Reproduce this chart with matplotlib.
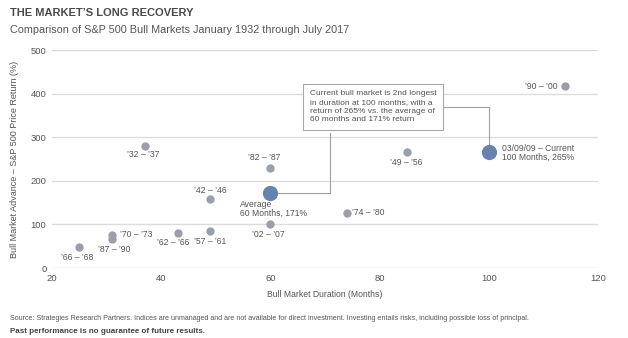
import matplotlib.pyplot as plt

plt.rcParams['font.family'] = ['Liberation Sans Narrow', 'Liberation Sans', 'DejaVu Sans']

# bull markets: duration (months) vs price return (%)
labels = ["’66 – ’68", "’87 – ’90", "’70 – ’73", "’32 – ’37", "’62 – ’66", "’57 – ’61",
          "’42 – ’46", "’82 – ’87", "’02 – ’07", "’74 – ’80", "’49 – ’56", "’90 – ’00"]
months = [25, 31, 31, 37, 43, 49, 49, 60, 60, 74, 85, 114]
returns = [48, 66, 76, 281, 81, 86, 158, 229, 101, 127, 266, 417]

avg_months, avg_return = 60, 171
cur_months, cur_return = 100, 265

# label offsets in pixels (dx, dy, ha)
offsets = [(-2, -10, 'center'), (2, -10, 'center'), (8, 0, 'left'), (-2, -9, 'center'),
           (-4, -10, 'center'), (0, -11, 'center'), (0, 9, 'center'), (-6, 11, 'center'),
           (-2, -11, 'center'), (5, 0, 'left'), (-1, -10, 'center'), (-8, 0, 'right')]

grey = '#9a9fa8'
blue = '#6583ad'
txt = '#555555'
grid = '#dcdcdc'

fig = plt.figure(figsize=(6.28, 3.38), dpi=100)
ax = fig.add_axes([0.0828, 0.207, 0.8694, 0.645])

ax.scatter(months, returns, s=36, color=grey, zorder=3, linewidths=0)
ax.scatter([avg_months, cur_months], [avg_return, cur_return], s=120, color=blue,
           zorder=3, linewidths=0)

px = 0.72
for lab, x, y, (dx, dy, ha) in zip(labels, months, returns, offsets):
    ax.annotate(lab, (x, y), xytext=(dx * px, dy * px), textcoords='offset points',
                ha=ha, va='center', fontsize=6.2, color=txt)

ax.annotate('Average\n60 Months, 171%', (avg_months, avg_return), xytext=(-30 * px, -7 * px),
            textcoords='offset points', ha='left', va='top', fontsize=6.2, color=txt,
            linespacing=0.95)
ax.annotate('03/09/09 – Current\n100 Months, 265%', (cur_months, cur_return),
            xytext=(13 * px, 0), textcoords='offset points', ha='left', va='center',
            fontsize=6.2, color=txt, linespacing=0.95)

# callout box and its connectors
ax.plot([90.9, 100, 100], [370, 370, cur_return + 8], color='#a0a0a0', lw=0.8, zorder=2)
ax.plot([71, 71, avg_months], [310, avg_return, avg_return], color='#a0a0a0', lw=0.8, zorder=2)
ax.text(67.2, 370, 'Current bull market is 2nd longest\nin duration at 100 months, with a\n'
        'return of 265% vs. the average of\n60 months and 171% return',
        ha='left', va='center', fontsize=6, color=txt, linespacing=1.35, zorder=4,
        bbox=dict(boxstyle='square,pad=0.75', fc='white', ec='#a8a8a8', lw=0.8))

ax.set_xlim(20, 120)
ax.set_ylim(0, 500)
ax.set_xticks([20, 40, 60, 80, 100, 120])
ax.set_yticks([0, 100, 200, 300, 400, 500])
ax.yaxis.grid(True, color=grid, lw=1)
ax.set_axisbelow(True)
for s in ax.spines.values():
    s.set_visible(False)
ax.tick_params(length=0, labelsize=6.8, colors=txt, pad=4)
ax.set_xlabel('Bull Market Duration (Months)', fontsize=6.2, color=txt, labelpad=5)
ax.set_ylabel('Bull Market Advance – S&P 500 Price Return (%)', fontsize=6.5, color=txt,
              labelpad=8)

fig.text(0.016, 0.962, 'THE MARKET’S LONG RECOVERY', fontsize=8, fontweight='bold',
         color='#4a4a4a', va='center')
fig.text(0.016, 0.91, 'Comparison of S&P 500 Bull Markets January 1932 through July 2017',
         fontsize=7.8, color=txt, va='center')
fig.text(0.016, 0.057, 'Source: Strategies Research Partners. Indices are unmanaged and are not '
         'available for direct investment. Investing entails risks, including possible loss '
         'of principal.', fontsize=5.1, color=txt, va='center')
fig.text(0.016, 0.018, 'Past performance is no guarantee of future results.', fontsize=5.8,
         fontweight='bold', color='#444444', va='center')

fig.savefig('out.png', dpi=100)
